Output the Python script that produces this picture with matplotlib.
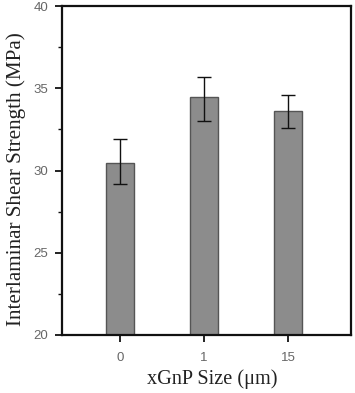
import matplotlib
matplotlib.use("Agg")
import matplotlib.pyplot as plt
from matplotlib.ticker import MultipleLocator

categories = ["0", "1", "15"]
values = [30.45, 34.45, 33.6]
errors_low = [1.3, 1.45, 1.0]
errors_high = [1.45, 1.25, 1.0]

fig = plt.figure(figsize=(3.55, 3.93), dpi=100)
ax = fig.add_axes([0.1746, 0.1476, 0.8141, 0.8371])

pos = list(range(len(categories)))
ax.bar(pos, values, width=0.33, color="#8c8c8c", edgecolor="#555555", linewidth=1.0,
       yerr=[errors_low, errors_high], capsize=5,
       error_kw=dict(ecolor="#111111", elinewidth=1.0, capthick=1.0), zorder=2)

ax.set_ylim(20, 40)
ax.set_xlim(-0.69, 2.75)
ax.set_xticks(pos)
ax.set_xticklabels(categories)
ax.yaxis.set_major_locator(MultipleLocator(5))
ax.yaxis.set_minor_locator(MultipleLocator(2.5))

for s in ax.spines.values():
    s.set_linewidth(1.6)
    s.set_color("#111111")

ax.tick_params(axis="both", which="major", direction="out", length=5, width=1.3,
               labelsize=9.5, labelcolor="#666666", color="#111111", pad=5)
ax.tick_params(axis="y", which="minor", direction="out", length=3, width=1.0, color="#111111")
ax.tick_params(axis="x", pad=7)
for lab in ax.get_xticklabels() + ax.get_yticklabels():
    lab.set_family("Liberation Sans")

ax.set_xlabel("xGnP Size (\u03bcm)", family="Liberation Serif", fontsize=14.6, color="#222222")
ax.set_ylabel("Interlaminar Shear Strength (MPa)", family="Liberation Serif", fontsize=15.2,
              color="#222222")
ax.xaxis.set_label_coords(0.52, -0.105)
ax.yaxis.set_label_coords(-0.125, 0.475)

fig.savefig("out.png", dpi=100)
